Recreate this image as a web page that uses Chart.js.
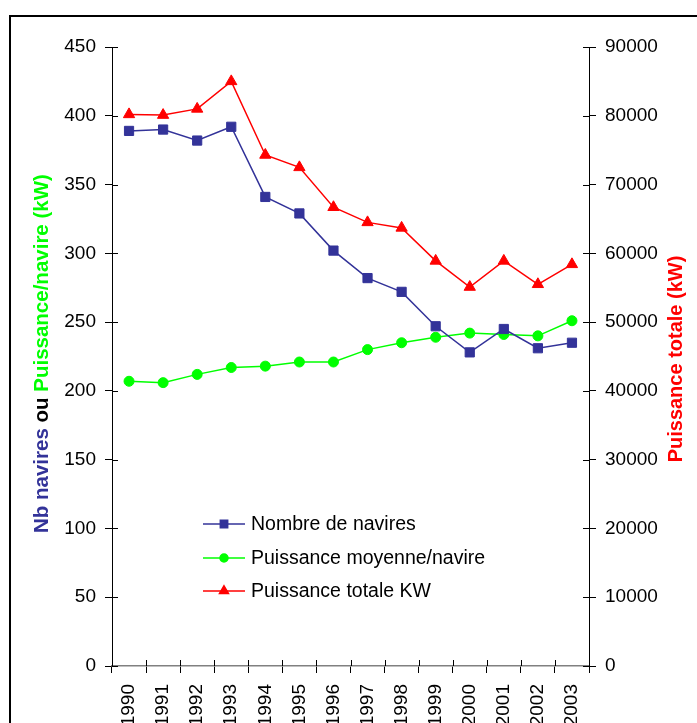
<!DOCTYPE html>
<html>
<head>
<meta charset="utf-8">
<script src="https://cdn.jsdelivr.net/npm/chart.js@4.4.1/dist/chart.umd.min.js"></script>
<style>
  html, body { margin: 0; padding: 0; background: #fff; }
  #wrap { position: relative; width: 697px; height: 723px; }
</style>
</head>
<body>
<div id="wrap"><canvas id="chart" width="697" height="723"></canvas></div>
<script>
// values
const years = ["1990", "1991", "1992", "1993", "1994", "1995", "1996", "1997", "1998", "1999", "2000", "2001", "2002", "2003"];
const nbNavires = [389, 390, 382, 392, 341, 329, 302, 282, 272, 247, 228, 245, 231, 235];
const puissanceMoyenne = [207, 206, 212, 217, 218, 221, 221, 230, 235, 239, 242, 241, 240, 251];
const puissanceTotale = [80200, 80100, 81000, 85000, 74300, 72500, 66700, 64500, 63700, 58900, 55100, 58900, 55500, 58400];

const BLUE = "#333399";
const GREEN = "#00ff00";
const RED = "#ff0000";
const FONT = "'Liberation Sans', Arial, sans-serif";

// frame, crossing ticks, axis titles, legend
const decorations = {
  id: "decorations",
  beforeDraw(chart) {
    const ctx = chart.ctx;
    ctx.save();
    ctx.fillStyle = "#fff";
    ctx.fillRect(0, 0, chart.width, chart.height);
    ctx.strokeStyle = "#000";
    ctx.lineWidth = 2;
    ctx.strokeRect(10, 16, 800, 800);
    ctx.restore();
  },
  afterDraw(chart) {
    const ctx = chart.ctx;
    const area = chart.chartArea;
    const yl = chart.scales.y;
    const yr = chart.scales.y1;
    const x = chart.scales.x;
    ctx.save();
    ctx.strokeStyle = "#000";
    ctx.lineWidth = 1;
    ctx.beginPath();
    yl.ticks.forEach(t => {
      const p = Math.round(yl.getPixelForValue(t.value)) + 0.5;
      ctx.moveTo(area.left, p); ctx.lineTo(area.left + 6, p);
    });
    yr.ticks.forEach(t => {
      const p = Math.round(yr.getPixelForValue(t.value)) + 0.5;
      ctx.moveTo(area.right, p); ctx.lineTo(area.right - 6, p);
    });
    for (let i = 0; i <= years.length; i++) {
      const p = Math.round(x.getPixelForValue(i - 0.5)) + 0.5;
      ctx.moveTo(p, area.bottom); ctx.lineTo(p, area.bottom - 6);
    }
    ctx.stroke();

    // left title in three colours
    ctx.font = "bold 20.5px " + FONT;
    ctx.textBaseline = "middle";
    ctx.textAlign = "left";
    ctx.translate(42, 533);
    ctx.rotate(-Math.PI / 2);
    let pos = 0;
    [["Nb navires", BLUE], [" ou ", "#000"], ["Puissance/navire (kW)", GREEN]].forEach(([txt, col]) => {
      ctx.fillStyle = col;
      ctx.fillText(txt, pos, 0);
      pos += ctx.measureText(txt).width;
    });
    ctx.setTransform(1, 0, 0, 1, 0, 0);

    // right title
    ctx.font = "bold 20px " + FONT;
    ctx.translate(676, 359);
    ctx.rotate(-Math.PI / 2);
    ctx.textAlign = "center";
    ctx.fillStyle = RED;
    ctx.fillText("Puissance totale (kW)", 0, 0);
    ctx.setTransform(1, 0, 0, 1, 0, 0);

    // legend inside the plot
    const rows = [524, 558, 591];
    ctx.font = "19.5px " + FONT;
    ctx.textAlign = "left";
    chart.data.datasets.forEach((ds, i) => {
      const yy = rows[i];
      ctx.strokeStyle = ds.borderColor;
      ctx.lineWidth = ds.borderWidth;
      ctx.beginPath();
      ctx.moveTo(203, yy); ctx.lineTo(245, yy);
      ctx.stroke();
      ctx.fillStyle = ds.pointBackgroundColor;
      ctx.strokeStyle = ds.pointBorderColor;
      Chart.helpers.drawPoint(ctx, {
        pointStyle: ds.pointStyle,
        radius: ds.pointRadius * 0.8,
        rotation: 0,
        borderWidth: 1
      }, 224, yy);
      ctx.fillStyle = "#000";
      ctx.fillText(ds.label, 251, yy + 1);
    });
    ctx.restore();
  }
};

new Chart(document.getElementById("chart"), {
  type: "line",
  data: {
    labels: years,
    datasets: [
      {
        label: "Nombre de navires",
        data: nbNavires,
        yAxisID: "y",
        borderColor: BLUE,
        borderWidth: 1.5,
        pointStyle: "rect",
        pointRadius: 6.5,
        pointBackgroundColor: BLUE,
        pointBorderColor: BLUE,
        pointBorderWidth: 1
      },
      {
        label: "Puissance moyenne/navire",
        data: puissanceMoyenne,
        yAxisID: "y",
        borderColor: GREEN,
        borderWidth: 1.5,
        pointStyle: "circle",
        pointRadius: 5,
        pointBackgroundColor: GREEN,
        pointBorderColor: GREEN,
        pointBorderWidth: 1
      },
      {
        label: "Puissance totale KW",
        data: puissanceTotale,
        yAxisID: "y1",
        borderColor: RED,
        borderWidth: 1.5,
        pointStyle: "triangle",
        pointRadius: 6.5,
        pointBackgroundColor: RED,
        pointBorderColor: RED,
        pointBorderWidth: 1
      }
    ]
  },
  options: {
    responsive: false,
    animation: false,
    events: [],
    layout: { padding: { top: 47, left: 0, right: 0, bottom: 0 } },
    plugins: {
      legend: { display: false },
      tooltip: { enabled: false }
    },
    scales: {
      x: {
        offset: true,
        grid: { offset: true, drawOnChartArea: false, tickLength: 7, color: "#000" },
        border: { color: "#808080", width: 1.5 },
        ticks: {
          font: { family: FONT, size: 19 },
          color: "#000",
          minRotation: 90,
          maxRotation: 90,
          autoSkip: false,
          padding: 11
        },
        afterFit(scale) { scale.height = 57; }
      },
      y: {
        position: "left",
        min: 0,
        max: 450,
        grid: { drawOnChartArea: false, tickLength: 7, color: "#000" },
        border: { color: "#000", width: 1 },
        ticks: {
          stepSize: 50,
          font: { family: FONT, size: 19 },
          color: "#000",
          padding: 9
        },
        afterFit(scale) { scale.width = 112; }
      },
      y1: {
        position: "right",
        min: 0,
        max: 90000,
        grid: { drawOnChartArea: false, tickLength: 7, color: "#000" },
        border: { color: "#000", width: 1 },
        ticks: {
          stepSize: 10000,
          font: { family: FONT, size: 19 },
          color: "#000",
          padding: 9,
          callback: v => String(v)
        },
        afterFit(scale) { scale.width = 108; }
      }
    }
  },
  plugins: [decorations]
});
</script>
</body>
</html>
